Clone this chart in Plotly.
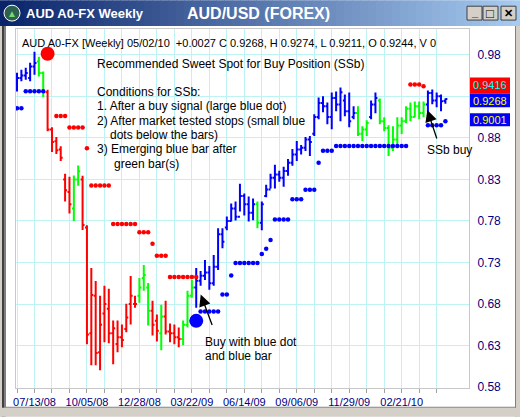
import pandas as pd
import plotly.graph_objects as go

# ---- weekly AUD/USD bars (week starting 2008-06-15) ----
weeks = pd.date_range("2008-06-15", periods=99, freq="7D")

opens = [0.940, 0.952, 0.955, 0.952, 0.966, 0.972, 0.958, 0.935, 0.890, 0.876,
         0.866, 0.830, 0.815, 0.795, 0.830, 0.830, 0.772, 0.645, 0.690, 0.622,
         0.6686, 0.6745, 0.645, 0.632, 0.640, 0.650, 0.680, 0.680, 0.690, 0.7115,
         0.700, 0.672, 0.660, 0.645, 0.665, 0.647, 0.645, 0.640, 0.638, 0.655,
         0.690, 0.700, 0.708, 0.714, 0.718, 0.705, 0.725, 0.764, 0.772, 0.780,
         0.795, 0.785, 0.810, 0.800, 0.790, 0.800, 0.778, 0.810, 0.818, 0.832,
         0.836, 0.832, 0.840, 0.850, 0.860, 0.866, 0.868, 0.878, 0.885, 0.905,
         0.922, 0.918, 0.905, 0.928, 0.920, 0.925, 0.912, 0.905, 0.910, 0.885,
         0.890, 0.905, 0.920, 0.925, 0.900, 0.892, 0.868, 0.878, 0.895, 0.900,
         0.915, 0.905, 0.918, 0.910, 0.920, 0.934, 0.925, 0.930, 0.9244]
highs = [0.9585, 0.962, 0.9645, 0.9705, 0.9836, 0.9776, 0.960, 0.938, 0.8929, 0.881,
         0.870, 0.8368, 0.8332, 0.8348, 0.8466, 0.8344, 0.7748, 0.7234, 0.7079, 0.690,
         0.702, 0.6984, 0.6602, 0.6602, 0.6554, 0.6805, 0.7139, 0.690, 0.7115, 0.727,
         0.7055, 0.684, 0.6673, 0.6793, 0.684, 0.6566, 0.6554, 0.6518, 0.6602, 0.696,
         0.7091, 0.7234, 0.7198, 0.733, 0.7258, 0.739, 0.7712, 0.7712, 0.7855, 0.801,
         0.8034, 0.8249, 0.813, 0.8094, 0.807, 0.8034, 0.8034, 0.8237, 0.8368, 0.8475,
         0.8404, 0.8452, 0.8547, 0.8666, 0.8762, 0.8714, 0.881, 0.8821, 0.9084, 0.9287,
         0.930, 0.9227, 0.9346, 0.9358, 0.9406, 0.9323, 0.9346, 0.918, 0.918, 0.894,
         0.9012, 0.9251, 0.9346, 0.9275, 0.9048, 0.8953, 0.8941, 0.9048, 0.9048, 0.918,
         0.9227, 0.9239, 0.9239, 0.9239, 0.937, 0.9382, 0.9346, 0.9323, 0.9274]
lows = [0.9358, 0.948, 0.950, 0.948, 0.956, 0.9537, 0.929, 0.888, 0.8631, 0.8607,
        0.8523, 0.8034, 0.789, 0.780, 0.8225, 0.769, 0.6316, 0.6065, 0.6065, 0.6005,
        0.634, 0.6327, 0.6077, 0.622, 0.628, 0.646, 0.6554, 0.6757, 0.6817, 0.696,
        0.6542, 0.6423, 0.6351, 0.6244, 0.6435, 0.634, 0.6316, 0.628, 0.6304, 0.6518,
        0.6876, 0.6757, 0.702, 0.709, 0.6972, 0.702, 0.721, 0.7473, 0.7688, 0.7795,
        0.7807, 0.7915, 0.7867, 0.7795, 0.781, 0.7712, 0.7688, 0.8085, 0.819, 0.819,
        0.8273, 0.8213, 0.8344, 0.8463, 0.8523, 0.860, 0.8642, 0.8583, 0.8821, 0.9024,
        0.9108, 0.8965, 0.8905, 0.912, 0.900, 0.906, 0.8929, 0.9024, 0.8821, 0.8762,
        0.8821, 0.9024, 0.9096, 0.8965, 0.8881, 0.8583, 0.8643, 0.8702, 0.8845, 0.8977,
        0.900, 0.9048, 0.9024, 0.9048, 0.9108, 0.9203, 0.9168, 0.912, 0.9211]
closes = [0.952, 0.955, 0.958, 0.966, 0.970, 0.958, 0.935, 0.890, 0.875, 0.865,
          0.856, 0.817, 0.800, 0.830, 0.8398, 0.775, 0.6435, 0.691, 0.6212, 0.655,
          0.680, 0.645, 0.651, 0.640, 0.6367, 0.6638, 0.690, 0.680, 0.700, 0.715,
          0.672, 0.655, 0.648, 0.665, 0.647, 0.645, 0.640, 0.638, 0.655, 0.690,
          0.700, 0.708, 0.714, 0.718, 0.705, 0.725, 0.764, 0.755, 0.780, 0.795,
          0.785, 0.810, 0.800, 0.790, 0.800, 0.778, 0.800, 0.818, 0.832, 0.836,
          0.832, 0.840, 0.850, 0.860, 0.866, 0.868, 0.878, 0.875, 0.905, 0.922,
          0.918, 0.905, 0.928, 0.920, 0.935, 0.912, 0.900, 0.910, 0.885, 0.890,
          0.898, 0.920, 0.928, 0.900, 0.892, 0.868, 0.878, 0.895, 0.900, 0.915,
          0.905, 0.918, 0.910, 0.920, 0.934, 0.925, 0.930, 0.9241, 0.9268]

# bar state per week: B = blue (long), G = green (pullback), R = red (short)
bar_state = ("BBBBB" + "GG" + "RRRRRR" + "GG" + "RRRRRRRRRRRRR" + "GGG" + "RR" + "G"
             + "RRRR" + "GGG" + "BBBBBBBBBBBBBB" + "G" + "BBBBBBBBBBBBBBBBBBBBBB"
             + "GGG" + "BB" + "GGGGGGGGGGG" + "BBBBB")

# trailing stops (week index, price)
blue_stop_idx = [0, 1, 2, 3, 4, 5, 6,
                 42, 43, 44, 45, 46, 47, 48, 49, 50, 51, 52, 53, 54, 55, 56, 57, 58,
                 59, 60, 61, 62, 63, 64, 65, 66, 67, 68, 69, 70, 71, 72,
                 73, 74, 75, 76, 77, 78, 79, 80, 81, 82, 83, 84, 85, 86, 87, 88, 89,
                 94, 95, 96, 97, 98]
blue_stop_px = [0.9156, 0.9156, 0.9362, 0.9362, 0.9362, 0.9362, 0.9362,
                0.671, 0.671, 0.671, 0.671, 0.671, 0.6916, 0.6916, 0.7143,
                0.7294, 0.7294, 0.7294, 0.7294, 0.7294, 0.7294, 0.7401, 0.7465, 0.7572,
                0.7819, 0.7819, 0.7819, 0.7819, 0.8061, 0.8061, 0.8061,
                0.8177, 0.8177, 0.8177, 0.850, 0.8646, 0.8646, 0.8646,
                0.8702, 0.8702, 0.8702, 0.8702, 0.8702, 0.8702, 0.8702, 0.8702, 0.8702,
                0.8702, 0.8702, 0.8702, 0.8702, 0.8702, 0.8702, 0.8702, 0.8702,
                0.8953, 0.8953, 0.8953, 0.8953, 0.9001]
red_stop_idx = [9, 10, 11, 12, 13, 14, 15, 16, 17, 18, 19, 20, 21,
                22, 23, 24, 25, 26, 27, 28, 29, 30, 31, 32, 33, 34,
                35, 36, 37, 38, 39, 40, 41, 90, 91, 92, 93]
red_stop_px = [0.9064, 0.9064, 0.9064, 0.8925, 0.8925, 0.8925, 0.8925, 0.8675,
               0.8228, 0.8228, 0.8228, 0.8228, 0.8228,
               0.7763, 0.7763, 0.7763, 0.7763, 0.7763, 0.7763, 0.7664, 0.7664, 0.7664,
               0.7525, 0.7381, 0.7381, 0.7381,
               0.7127, 0.7127, 0.7127, 0.7127, 0.7127, 0.7127, 0.7127,
               0.9442, 0.9442, 0.9442, 0.9422]

# signals: sell (large red dot) and buy (large blue dot)
sell_idx, sell_px = 7, 0.9812
buy_idx, buy_px = 41, 0.6598

y_ticks = [0.58, 0.63, 0.68, 0.73, 0.78, 0.83, 0.88, 0.93, 0.98]
date_label_idx = [4, 16, 28, 40, 52, 64, 76, 88]

# price flags on the right edge: (text, background, text colour)
flags = [("0.9416", "#ff0000", "#00ffff"),
         ("0.9268", "#0000ff", "#ffff00"),
         ("0.9001", "#0000ff", "#ffff00")]

# ---- page geometry (pixels) ----
W, H = 520, 420
L, R, T, B = 16, 469, 29, 391


def fx(x):
    return (x - L) / (R - L)


def fy(y):
    return (B - y) / (B - T)


COLORS = {"B": "#0000ff", "G": "#00ff00", "R": "#ff0000"}
FONT = "Liberation Sans, Arial, sans-serif"

fig = go.Figure()

for state, col in COLORS.items():
    idx = [i for i, s in enumerate(bar_state) if s == state]
    fig.add_trace(go.Ohlc(
        x=[weeks[i] for i in idx],
        open=[opens[i] for i in idx], high=[highs[i] for i in idx],
        low=[lows[i] for i in idx], close=[closes[i] for i in idx],
        increasing=dict(line=dict(color=col, width=2)),
        decreasing=dict(line=dict(color=col, width=2)),
        tickwidth=0.45, showlegend=False, hoverinfo="skip"))

fig.add_trace(go.Scatter(
    x=[weeks[i] for i in blue_stop_idx], y=blue_stop_px, mode="markers",
    marker=dict(color="#0000ff", size=4.5, line=dict(width=0)),
    showlegend=False, hoverinfo="skip"))
fig.add_trace(go.Scatter(
    x=[weeks[i] for i in red_stop_idx], y=red_stop_px, mode="markers",
    marker=dict(color="#ff0000", size=4.5, line=dict(width=0)),
    showlegend=False, hoverinfo="skip"))
fig.add_trace(go.Scatter(
    x=[weeks[sell_idx]], y=[sell_px], mode="markers",
    marker=dict(color="#ff0000", size=14, line=dict(width=0)),
    showlegend=False, hoverinfo="skip"))
fig.add_trace(go.Scatter(
    x=[weeks[buy_idx]], y=[buy_px], mode="markers",
    marker=dict(color="#0000ff", size=14, line=dict(width=0)),
    showlegend=False, hoverinfo="skip"))

week = pd.Timedelta(days=7)
grid_vals = [weeks[i] for i in range(0, 97, 4)]
grid_text = [weeks[i].strftime("%m/%d/%y") if i in date_label_idx else ""
             for i in range(0, 97, 4)]

# the 0.93 label sits under the price flags, so its text is left empty
y_text = ["" if v == 0.93 else f"{v:.2f}" for v in y_ticks]

GRID = "#bdf3f3"
fig.update_xaxes(
    range=[weeks[0] - 0.23 * week, weeks[0] + 103.4 * week],
    tickmode="array", tickvals=grid_vals, ticktext=grid_text,
    showgrid=True, gridcolor=GRID, gridwidth=1,
    ticks="outside", ticklen=4, tickcolor="#a0a0a0",
    tickfont=dict(family=FONT, size=11, color="#000080"),
    showline=True, linecolor="#c8c8c8", mirror=True,
    rangeslider=dict(visible=False), zeroline=False)
fig.update_yaxes(
    side="right", range=[0.579, 1.011],
    tickmode="array", tickvals=y_ticks, ticktext=y_text,
    showgrid=True, gridcolor=GRID, gridwidth=1,
    ticks="outside", ticklen=5, tickcolor="rgba(0,0,0,0)",
    tickfont=dict(family=FONT, size=12, color="#000080"),
    showline=True, linecolor="#c8c8c8", mirror=True, zeroline=False)

shapes = []
# title bar gradient
n = 65
c0, c1 = (10, 36, 106), (166, 202, 240)
for i in range(n):
    t = i / (n - 1)
    c = tuple(round(a + (b - a) * t) for a, b in zip(c0, c1))
    shapes.append(dict(type="rect", xref="paper", yref="paper",
                       x0=fx(i * 8), x1=fx(i * 8 + 8.5), y0=fy(26), y1=fy(0),
                       line=dict(width=0), fillcolor="rgb(%d,%d,%d)" % c, layer="above"))
# window frame: left, right and bottom borders
frame = [(0, 26, 2, 420, "#d4d0c8"), (2, 26, 4, 420, "#404040"), (4, 26, 6, 420, "#808080"),
         (516, 26, 520, 420, "#d4d0c8"), (515, 26, 516, 420, "#808080"),
         (0, 411, 520, 420, "#d4d0c8"), (6, 410, 516, 411, "#808080")]
for x0, y0, x1, y1, col in frame:
    shapes.append(dict(type="rect", xref="paper", yref="paper",
                       x0=fx(x0), x1=fx(x1), y0=fy(y1), y1=fy(y0),
                       line=dict(width=0), fillcolor=col, layer="above"))
# caption buttons
for bx in (467, 483, 501):
    shapes.append(dict(type="rect", xref="paper", yref="paper",
                       x0=fx(bx), x1=fx(bx + 15), y0=fy(20), y1=fy(6),
                       line=dict(color="#404040", width=1), fillcolor="#d4d0c8",
                       layer="above"))
# window icon
shapes.append(dict(type="circle", xref="paper", yref="paper",
                   x0=fx(4), x1=fx(20), y0=fy(21), y1=fy(5),
                   line=dict(color="#ffffff", width=1), fillcolor="#2f5f4f", layer="above"))

# price flag backgrounds (stacked boxes at the right edge)
for (s, bg, fg), (top, bot) in zip(flags, ((78, 94), (94, 108), (114, 127))):
    shapes.append(dict(type="rect", xref="paper", yref="paper",
                       x0=fx(470), x1=fx(510), y0=fy(bot), y1=fy(top),
                       line=dict(width=0), fillcolor=bg, layer="above"))

ann = []


def text(x, y, s, size=12, color="#000000", bold=False, anchor="left"):
    ann.append(dict(xref="paper", yref="paper", x=fx(x), y=fy(y), text=s,
                    showarrow=False, xanchor=anchor, yanchor="middle",
                    font=dict(family=FONT, size=size, color=color,
                              weight="bold" if bold else "normal")))


text(24, 13, "AUD A0-FX Weekly", size=13, color="#ffffff", bold=True)
text(258, 13, "AUD/USD (FOREX)", size=16, color="#ffffff", bold=True, anchor="center")
text(12, 13, "▲", size=10, color="#6fdc6f", anchor="center")
text(474.5, 12, "_", size=11, bold=True, anchor="center")
text(490.5, 13, "□", size=13, bold=True, anchor="center")
text(508.5, 13, "✕", size=11, bold=True, anchor="center")

text(20, 43, "AUD A0-FX [Weekly] 05/02/10  +0.0027 C 0.9268, H 0.9274, L 0.9211, O 0.9244, V 0", size=11)
text(95, 64, "Recommended Sweet Spot for Buy Position (SSb)")
text(95, 93, "Conditions for SSb:")
text(95, 107, "1. After a buy signal (large blue dot)")
text(95, 122, "2) After market tested stops (small blue")
text(108, 136, "dots below the bars)")
text(95, 150, "3) Emerging blue bar after")
text(112, 165, "green bar(s)")
text(203, 345, "Buy with blue dot")
text(203, 359, "and blue bar")
text(425, 151, "SSb buy")

# price flag labels
for (s, bg, fg), yc in zip(flags, (85.5, 101.5, 120.5)):
    text(490, yc, s, size=11, color=fg, anchor="center")

# arrows
for tipx, tipy, ax, ay in ((200.7, 296.7, 12, 32), (427.3, 110.7, 10, 30)):
    ann.append(dict(xref="paper", yref="paper", x=fx(tipx), y=fy(tipy), text="",
                    showarrow=True, arrowhead=2, arrowsize=1.8, arrowwidth=1.3,
                    arrowcolor="#000000", ax=ax, ay=ay, standoff=0))

fig.update_layout(
    width=W, height=H, margin=dict(l=L, r=W - R, t=T, b=H - B),
    paper_bgcolor="#ffffff", plot_bgcolor="#ffffff",
    shapes=shapes, annotations=ann, showlegend=False,
    font=dict(family=FONT))

fig.write_html("out.html")
